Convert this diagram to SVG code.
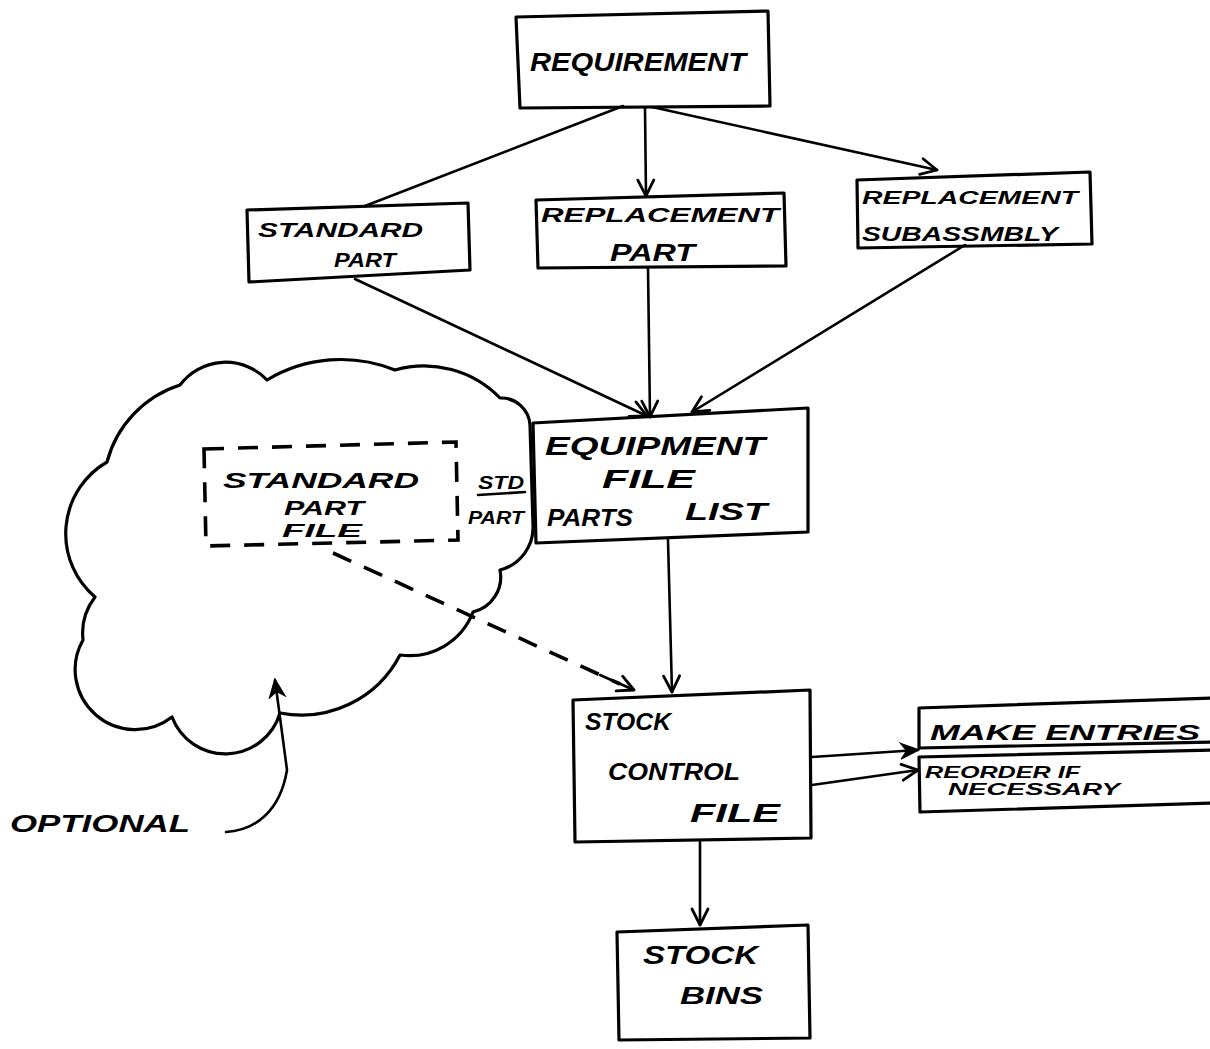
<svg xmlns="http://www.w3.org/2000/svg" width="1210" height="1049" viewBox="0 0 1210 1049">
<style>
.box{fill:none;stroke:#000;stroke-width:3.2;stroke-linejoin:round}
.ln{fill:none;stroke:#000;stroke-width:2.6;stroke-linecap:round}
.dash{fill:none;stroke:#000;stroke-width:3.6;stroke-dasharray:20 14}
.t{font-family:"Liberation Sans",Arial,sans-serif;font-weight:bold;font-style:italic;fill:#000}
</style>
<defs>
<marker id="open" markerUnits="userSpaceOnUse" markerWidth="22" markerHeight="22" refX="18" refY="9" orient="auto" viewBox="0 0 22 18">
<path d="M2,1 L18,9 L2,17" fill="none" stroke="#000" stroke-width="2.8" stroke-linecap="round" stroke-linejoin="round"/>
</marker>
<marker id="solid" markerUnits="userSpaceOnUse" markerWidth="22" markerHeight="22" refX="18" refY="9" orient="auto" viewBox="0 0 22 18">
<path d="M2,2 L18,9 L2,16 L7,9 Z" fill="#000" stroke="#000" stroke-width="2"/>
</marker>
</defs>
<rect width="1210" height="1049" fill="#fff"/>

<g id="cloud">
<path class="box" stroke-width="3.6" d="M107,462 A110,110 0 0 1 180,385 A57,57 0 0 1 267,380 A144,144 0 0 1 395,370 A106,106 0 0 1 500,398 A29,29 0 0 1 530,425 L533,525 A44,44 0 0 1 500,570 A36,36 0 0 1 473,612 A68,68 0 0 1 400,655 A111,111 0 0 1 280,713 A57,57 0 0 1 172,717 A60,60 0 0 1 83,640 A60,60 0 0 1 95,597 A83,83 0 0 1 107,462 Z"/>
</g>

<g id="connectors">
<line class="ln" x1="623" y1="106" x2="365" y2="206"/>
<line class="ln" x1="645" y1="108" x2="646" y2="196" marker-end="url(#open)"/>
<line class="ln" x1="652" y1="107" x2="937" y2="170" marker-end="url(#open)"/>
<line class="ln" x1="355" y1="279" x2="647" y2="416" marker-end="url(#open)"/>
<line class="ln" x1="648" y1="268" x2="650" y2="417" marker-end="url(#open)"/>
<line class="ln" x1="965" y1="245" x2="692" y2="412" marker-end="url(#open)"/>
<line class="ln" x1="668" y1="540" x2="672" y2="692" marker-end="url(#open)"/>
<line class="dash" x1="333" y1="553" x2="620" y2="684"/>
<line class="ln" x1="600" y1="675" x2="634" y2="690" marker-end="url(#open)"/>
<line class="ln" x1="812" y1="757" x2="918" y2="750" marker-end="url(#solid)"/>
<line class="ln" x1="812" y1="785" x2="918" y2="770" marker-end="url(#open)"/>
<line class="ln" x1="700" y1="842" x2="700" y2="925" marker-end="url(#open)"/>
<path class="ln" stroke-width="3" d="M226,832 C255,830 280,812 287,770 L275,680" marker-end="url(#solid)"/>
</g>

<g id="requirement">
<path class="box" d="M516,17 L768,11 L770,106 L520,108 Z"/>
<text class="t" x="530" y="71" font-size="25" textLength="216" lengthAdjust="spacingAndGlyphs">REQUIREMENT</text>
</g>

<g id="standard-part">
<path class="box" d="M247,210 L468,203 L470,270 L249,282 Z"/>
<text class="t" x="258" y="237" font-size="20" textLength="165" lengthAdjust="spacingAndGlyphs">STANDARD</text>
<text class="t" x="334" y="267" font-size="21" textLength="62" lengthAdjust="spacingAndGlyphs">PART</text>
</g>

<g id="replacement-part">
<path class="box" d="M536,200 L784,193 L786,266 L538,268 Z"/>
<text class="t" x="541" y="222" font-size="21" textLength="238" lengthAdjust="spacingAndGlyphs">REPLACEMENT</text>
<text class="t" x="610" y="261" font-size="24" textLength="85" lengthAdjust="spacingAndGlyphs">PART</text>
</g>

<g id="replacement-subassembly">
<path class="box" d="M857,180 L1090,172 L1092,244 L858,248 Z"/>
<text class="t" x="862" y="204" font-size="18" textLength="216" lengthAdjust="spacingAndGlyphs">REPLACEMENT</text>
<text class="t" x="862" y="241" font-size="21" textLength="196" lengthAdjust="spacingAndGlyphs">SUBASSMBLY</text>
</g>

<g id="standard-part-file">
<path class="dash" d="M204,449 L456,442 L458,540 L206,546 Z"/>
<text class="t" x="223" y="488" font-size="22" textLength="196" lengthAdjust="spacingAndGlyphs">STANDARD</text>
<text class="t" x="284" y="515" font-size="20" textLength="80" lengthAdjust="spacingAndGlyphs">PART</text>
<text class="t" x="282" y="537" font-size="18" textLength="80" lengthAdjust="spacingAndGlyphs">FILE</text>
<text class="t" x="478" y="489" font-size="18" textLength="46" lengthAdjust="spacingAndGlyphs">STD</text>
<line class="ln" x1="478" y1="495" x2="525" y2="492" stroke-width="2.4"/>
<text class="t" x="468" y="524" font-size="18" textLength="56" lengthAdjust="spacingAndGlyphs">PART</text>
</g>

<g id="equipment-file">
<path class="box" d="M533,423 L808,408 L808,532 L536,543 Z"/>
<text class="t" x="545" y="455" font-size="26" textLength="220" lengthAdjust="spacingAndGlyphs">EQUIPMENT</text>
<text class="t" x="602" y="488" font-size="25" textLength="93" lengthAdjust="spacingAndGlyphs">FILE</text>
<text class="t" x="547" y="526" font-size="24" textLength="86" lengthAdjust="spacingAndGlyphs">PARTS</text>
<text class="t" x="685" y="520" font-size="24" textLength="82" lengthAdjust="spacingAndGlyphs">LIST</text>
</g>

<g id="stock-control-file">
<path class="box" d="M573,700 L810,690 L811,838 L575,842 Z"/>
<text class="t" x="585" y="730" font-size="24" textLength="86" lengthAdjust="spacingAndGlyphs">STOCK</text>
<text class="t" x="608" y="780" font-size="23" textLength="132" lengthAdjust="spacingAndGlyphs">CONTROL</text>
<text class="t" x="690" y="822" font-size="25" textLength="90" lengthAdjust="spacingAndGlyphs">FILE</text>
</g>

<g id="make-entries">
<path class="box" d="M1212,698 L919,708 L919,748 L1212,742"/>
<text class="t" x="930" y="740" font-size="22" textLength="270" lengthAdjust="spacingAndGlyphs">MAKE   ENTRIES</text>
</g>

<g id="reorder">
<path class="box" d="M1212,750 L919,757 L920,812 L1212,803"/>
<text class="t" x="925" y="778" font-size="17" textLength="155" lengthAdjust="spacingAndGlyphs">REORDER IF</text>
<text class="t" x="948" y="795" font-size="16" textLength="172" lengthAdjust="spacingAndGlyphs">NECESSARY</text>
</g>

<g id="stock-bins">
<path class="box" d="M617,932 L808,925 L810,1038 L619,1040 Z"/>
<text class="t" x="643" y="964" font-size="26" textLength="115" lengthAdjust="spacingAndGlyphs">STOCK</text>
<text class="t" x="680" y="1004" font-size="24" textLength="83" lengthAdjust="spacingAndGlyphs">BINS</text>
</g>

<g id="optional">
<text class="t" x="10" y="832" font-size="24" textLength="180" lengthAdjust="spacingAndGlyphs">OPTIONAL</text>
</g>
</svg>
